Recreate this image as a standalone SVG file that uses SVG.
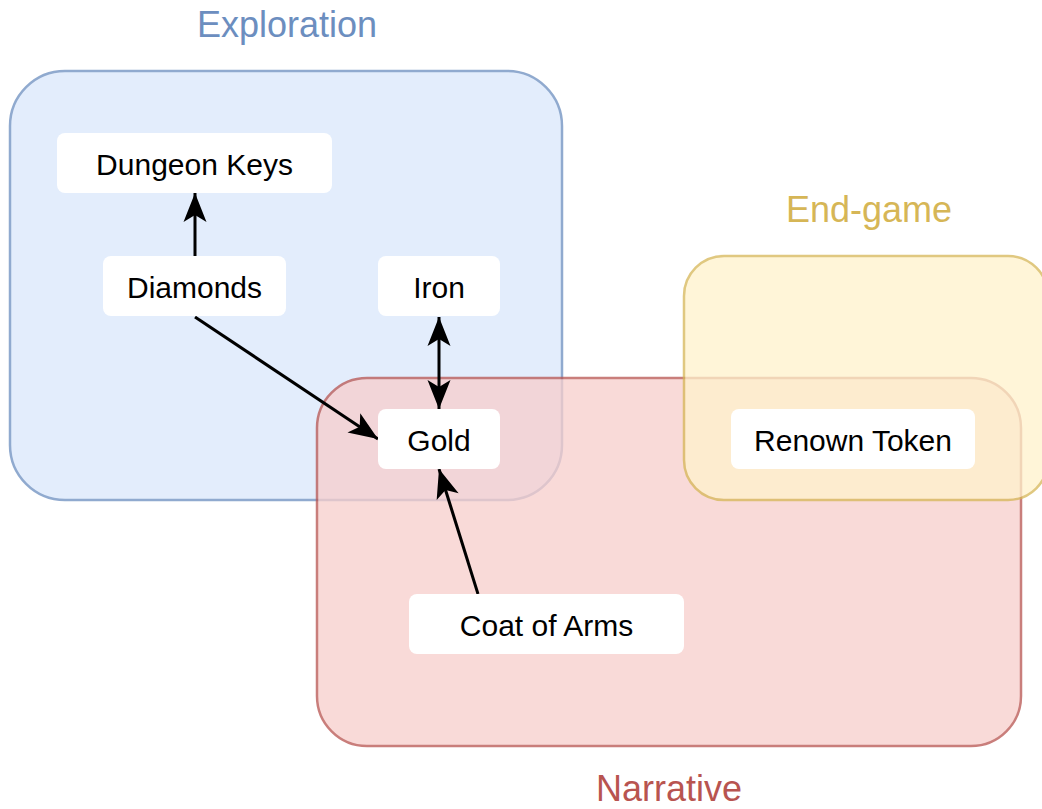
<svg xmlns="http://www.w3.org/2000/svg" width="1042" height="809" viewBox="0 0 1042 809">
  <style>
    .group { stroke-width: 2.5; opacity: 0.75; }
    .blue { fill: #dae8fc; stroke: #6c8ebf; }
    .red { fill: #f8cecc; stroke: #b85450; }
    .yellow { fill: #fff2cc; stroke: #d6b656; }
    .title { font-family: "Liberation Sans", Arial, sans-serif; font-size: 36px; text-anchor: middle; }
    .node rect { fill: #ffffff; stroke: none; }
    .node text { font-family: "Liberation Sans", Arial, sans-serif; font-size: 30px; fill: #000000; text-anchor: middle; }
    .edge { fill: none; stroke: #000000; stroke-width: 3; }
  </style>
  <defs>
    <marker id="arrow" viewBox="-32 -13 34 26" refX="0" refY="0" markerWidth="34" markerHeight="26" markerUnits="userSpaceOnUse" orient="auto-start-reverse">
      <path d="M0,0 L-29,-11.5 L-22,0 L-29,11.5 Z" fill="#000000"/>
    </marker>
  </defs>

  <rect width="1042" height="809" fill="#ffffff"/>

  <!-- group regions -->
  <g id="exploration">
    <rect class="group blue" x="10" y="71" width="552" height="429" rx="55" ry="55"/>
    <text class="title" x="287" y="37" fill="#6c8ebf">Exploration</text>
  </g>
  <g id="narrative">
    <rect class="group red" x="317" y="378" width="704" height="368" rx="50" ry="50"/>
    <text class="title" x="669" y="801" fill="#b85450">Narrative</text>
  </g>
  <g id="endgame">
    <rect class="group yellow" x="684" y="256" width="364" height="244" rx="40" ry="40"/>
    <text class="title" x="869" y="222" fill="#d6b656">End-game</text>
  </g>

  <!-- connectors -->
  <g id="connectors">
    <path class="edge" d="M195,256 L195,193" marker-end="url(#arrow)"/>
    <path class="edge" d="M195,317 L378,439" marker-end="url(#arrow)"/>
    <path class="edge" d="M439,317 L439,409" marker-start="url(#arrow)" marker-end="url(#arrow)"/>
    <path class="edge" d="M478,594 L439,469" marker-end="url(#arrow)"/>
  </g>

  <!-- items -->
  <g id="dungeon-keys" class="node">
    <rect x="57" y="133" width="275" height="60" rx="8" ry="8"/>
    <text x="194.5" y="175">Dungeon Keys</text>
  </g>
  <g id="diamonds" class="node">
    <rect x="103" y="256" width="183" height="60" rx="8" ry="8"/>
    <text x="194.5" y="298">Diamonds</text>
  </g>
  <g id="iron" class="node">
    <rect x="378" y="256" width="122" height="60" rx="8" ry="8"/>
    <text x="439" y="298">Iron</text>
  </g>
  <g id="gold" class="node">
    <rect x="378" y="409" width="122" height="60" rx="8" ry="8"/>
    <text x="439" y="451">Gold</text>
  </g>
  <g id="renown-token" class="node">
    <rect x="731" y="409" width="244" height="60" rx="8" ry="8"/>
    <text x="853" y="451">Renown Token</text>
  </g>
  <g id="coat-of-arms" class="node">
    <rect x="409" y="594" width="275" height="60" rx="8" ry="8"/>
    <text x="546.5" y="636">Coat of Arms</text>
  </g>
</svg>
